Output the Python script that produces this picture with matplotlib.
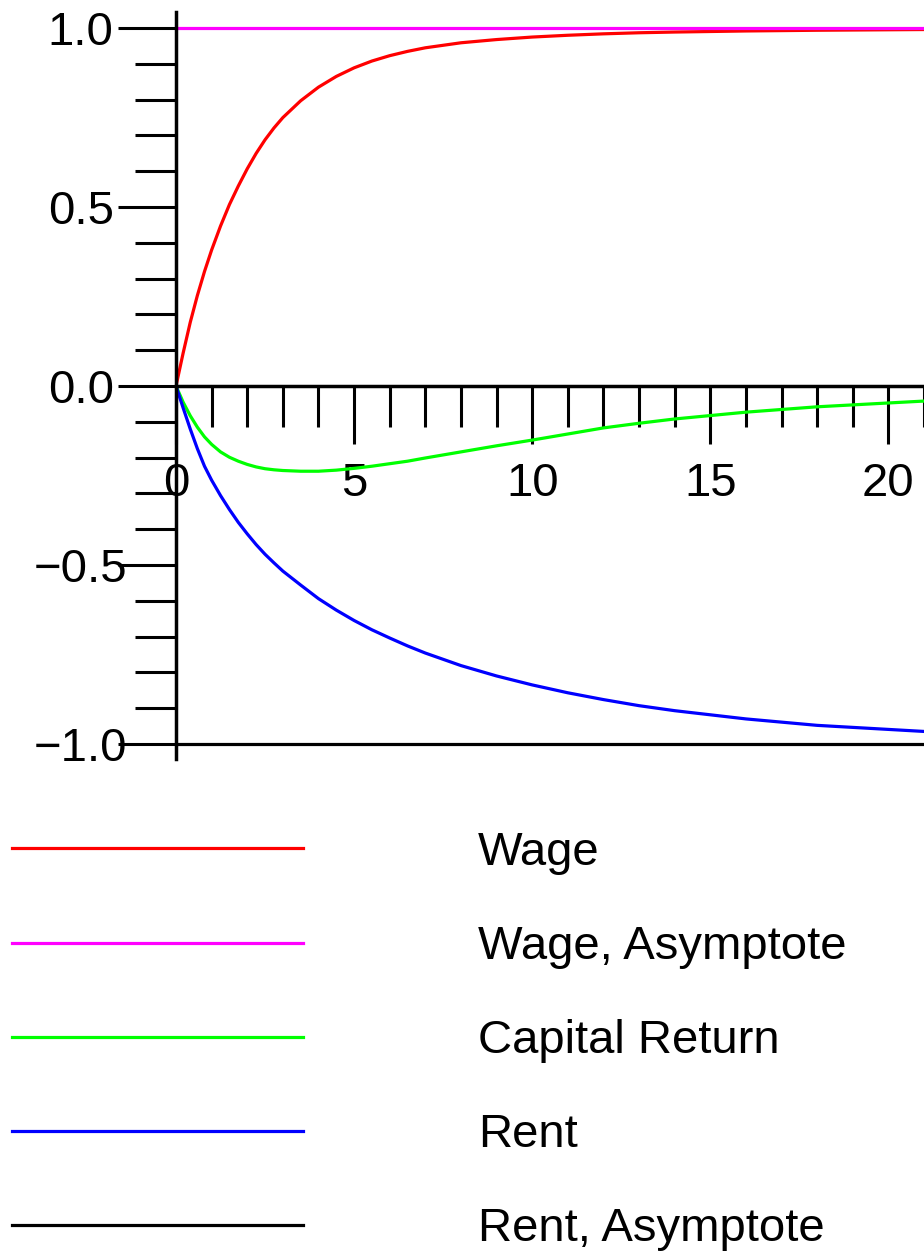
import matplotlib
matplotlib.use("Agg")
import matplotlib.pyplot as plt
from matplotlib.ticker import MultipleLocator

plt.rcParams['font.family'] = ['Liberation Sans', 'DejaVu Sans']

# values
t = [0, 0.2, 0.4, 0.6, 0.8, 1.0, 1.25, 1.5, 1.75, 2.0, 2.25, 2.5, 2.75, 3.0, 3.5, 4.0, 4.5,
     5.0, 5.5, 6.0, 6.5, 7.0, 8.0, 9.0, 10.0, 11.0, 12.0, 13.0, 14.0, 16.0, 18.0, 21.0]
wage = [0, 0.092, 0.178, 0.253, 0.32, 0.38, 0.447, 0.507, 0.559, 0.607, 0.65, 0.688, 0.721, 0.75,
        0.797, 0.835, 0.865, 0.889, 0.908, 0.923, 0.935, 0.945, 0.959, 0.968, 0.975, 0.98,
        0.984, 0.987, 0.989, 0.992, 0.994, 0.996]
capital = [0, -0.045, -0.083, -0.115, -0.142, -0.163, -0.184, -0.199, -0.21, -0.219, -0.226,
           -0.231, -0.234, -0.236, -0.238, -0.238, -0.235, -0.23, -0.224, -0.217, -0.21, -0.201,
           -0.184, -0.167, -0.151, -0.134, -0.117, -0.104, -0.092, -0.073, -0.058, -0.042]
rent = [0, -0.061, -0.12, -0.175, -0.224, -0.263, -0.306, -0.345, -0.381, -0.413, -0.443, -0.47,
        -0.494, -0.517, -0.556, -0.594, -0.626, -0.655, -0.681, -0.704, -0.726, -0.746, -0.781,
        -0.81, -0.835, -0.857, -0.876, -0.893, -0.907, -0.930, -0.948, -0.965]
t_asym = [0, 21]
wage_asym = [1.0, 1.0]
rent_asym = [-1.0, -1.0]

labels = ["Wage", "Wage, Asymptote", "Capital Return", "Rent", "Rent, Asymptote"]
colors = ["#ff0000", "#ff00ff", "#00ff00", "#0000ff", "#000000"]

yticks = [-1.0, -0.5, 0.0, 0.5, 1.0]
yticklabels = ["\u22121.0", "\u22120.5", "0.0", "0.5", "1.0"]
xticks = [0, 5, 10, 15, 20]

W, H = 924, 1257
fig = plt.figure(figsize=(W / 100, H / 100), dpi=100)
ax = fig.add_axes([176 / W, 1 - 759 / H, 748 / W, 747 / H])

lw = 2.3
ax.plot(t, wage, color=colors[0], lw=lw, label=labels[0])
ax.plot(t_asym, wage_asym, color=colors[1], lw=lw, label=labels[1])
ax.plot(t, capital, color=colors[2], lw=lw, label=labels[2])
ax.plot(t, rent, color=colors[3], lw=lw, label=labels[3])
ax.plot(t_asym, rent_asym, color=colors[4], lw=lw, label=labels[4])

ax.set_xlim(0, 21)
ax.set_ylim(-1.042, 1.045)

for s in ["top", "right"]:
    ax.spines[s].set_visible(False)
ax.spines["bottom"].set_position(("data", 0))
ax.spines["left"].set_linewidth(2.5)
ax.spines["bottom"].set_linewidth(2.5)

ax.set_xticks(xticks)
ax.set_xticklabels([str(v) for v in xticks])
ax.xaxis.set_minor_locator(MultipleLocator(1))
ax.set_yticks(yticks)
ax.set_yticklabels(yticklabels)
ax.yaxis.set_minor_locator(MultipleLocator(0.1))

ax.tick_params(which="major", length=42, width=2.2, direction="out", labelsize=34)
ax.tick_params(which="minor", length=29.5, width=2.2, direction="out")
ax.tick_params(axis="x", which="major", pad=13)
ax.tick_params(axis="y", which="major", pad=26.6)
for lab in ax.get_yticklabels():
    lab.set_horizontalalignment("center")

fig.legend(loc="upper left", bbox_to_anchor=(12 / W, 1 - 831 / H), frameon=False,
           fontsize=34, handlelength=6.17, handletextpad=3.7, labelspacing=1.06,
           borderpad=0, borderaxespad=0)

fig.savefig("out.png", dpi=100)
